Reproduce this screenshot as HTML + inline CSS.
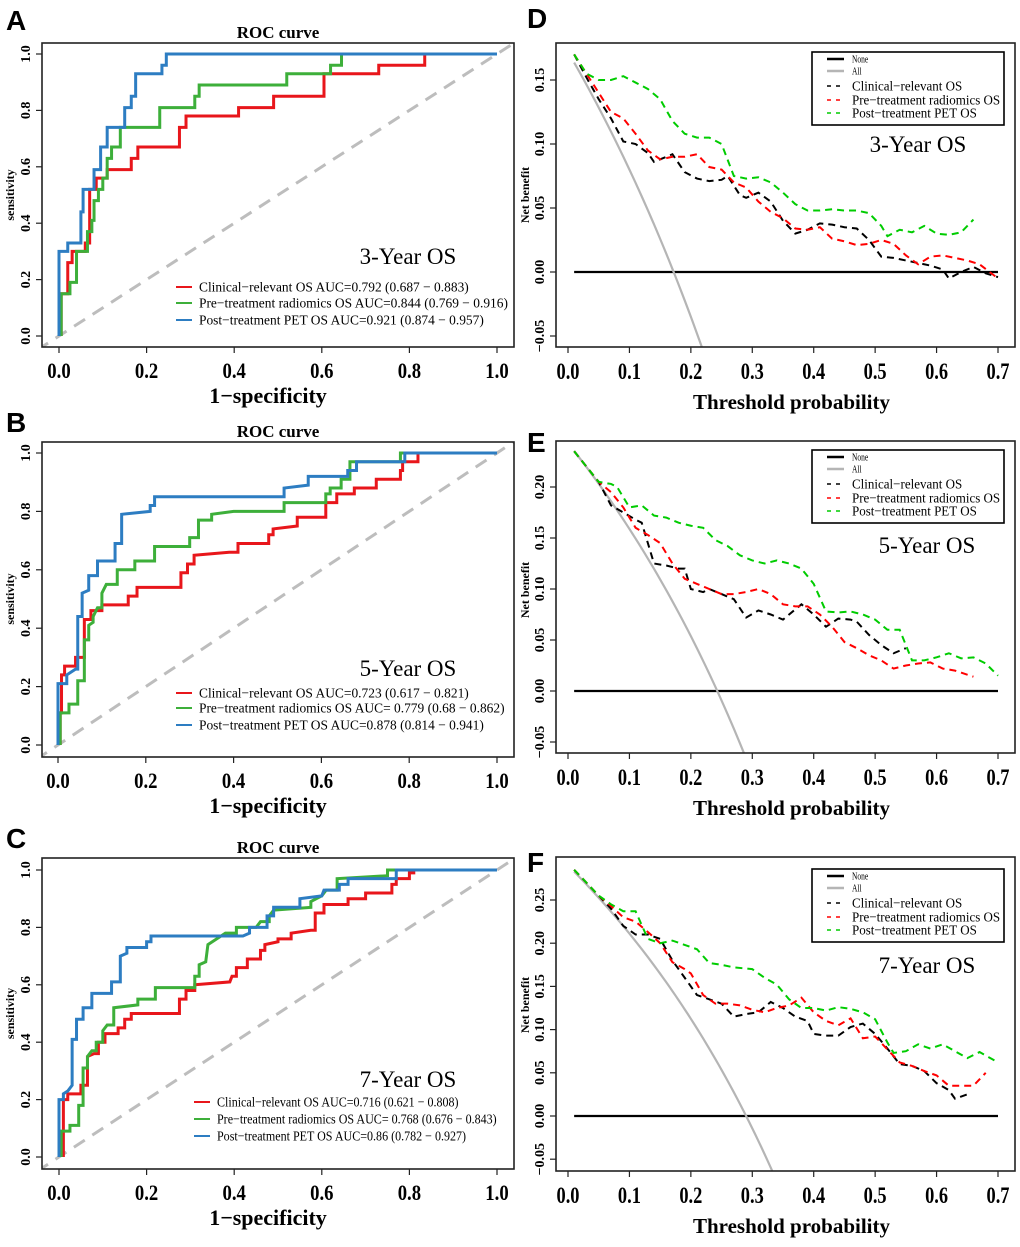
<!DOCTYPE html>
<html><head><meta charset="utf-8"><style>
html,body{margin:0;padding:0;background:#fff;width:1020px;height:1247px;overflow:hidden;}
svg{display:block;}
text{font-family:"Liberation Serif",serif;}
</style></head><body>
<svg id="fig" width="1020" height="1247" viewBox="0 0 1020 1247" xmlns="http://www.w3.org/2000/svg"></svg>
<script>
// ---------- ROC data ([fpr, tpr] pairs) ----------
const rocA_clin=[[0.005,0],[0.005,0.15],[0.02,0.15],[0.02,0.26],[0.03,0.26],[0.03,0.3],[0.06,0.3],[0.06,0.33],[0.07,0.33],[0.07,0.52],[0.085,0.52],[0.085,0.56],[0.11,0.56],[0.11,0.59],[0.165,0.59],[0.165,0.63],[0.18,0.63],[0.18,0.67],[0.275,0.67],[0.275,0.74],[0.29,0.74],[0.29,0.78],[0.41,0.78],[0.41,0.81],[0.49,0.81],[0.49,0.85],[0.605,0.85],[0.605,0.93],[0.73,0.93],[0.73,0.96],[0.835,0.96],[0.835,1],[1,1]];
const rocA_pre=[[0.005,0],[0.005,0.15],[0.025,0.15],[0.025,0.19],[0.04,0.19],[0.04,0.3],[0.065,0.3],[0.065,0.37],[0.075,0.37],[0.075,0.41],[0.08,0.41],[0.08,0.48],[0.09,0.48],[0.09,0.52],[0.1,0.52],[0.1,0.56],[0.11,0.56],[0.11,0.63],[0.12,0.63],[0.12,0.67],[0.14,0.67],[0.14,0.74],[0.23,0.74],[0.23,0.81],[0.31,0.81],[0.31,0.85],[0.32,0.85],[0.32,0.89],[0.52,0.89],[0.52,0.93],[0.62,0.93],[0.62,0.96],[0.645,0.96],[0.645,1],[1,1]];
const rocA_post=[[0,0],[0,0.3],[0.02,0.3],[0.02,0.33],[0.05,0.33],[0.05,0.44],[0.055,0.44],[0.055,0.52],[0.08,0.52],[0.08,0.59],[0.095,0.59],[0.095,0.67],[0.11,0.67],[0.11,0.74],[0.15,0.74],[0.15,0.81],[0.165,0.81],[0.165,0.85],[0.175,0.85],[0.175,0.93],[0.235,0.93],[0.235,0.96],[0.245,0.96],[0.245,1],[1,1]];
const rocB_clin=[[0.005,0],[0.005,0.11],[0.008,0.11],[0.008,0.24],[0.015,0.24],[0.015,0.27],[0.04,0.27],[0.04,0.3],[0.06,0.3],[0.06,0.43],[0.075,0.43],[0.075,0.46],[0.1,0.46],[0.1,0.48],[0.16,0.48],[0.16,0.51],[0.18,0.51],[0.18,0.54],[0.28,0.54],[0.28,0.59],[0.295,0.59],[0.295,0.62],[0.31,0.62],[0.31,0.65],[0.39,0.66],[0.41,0.66],[0.41,0.69],[0.48,0.69],[0.48,0.72],[0.49,0.72],[0.49,0.74],[0.545,0.75],[0.545,0.78],[0.61,0.78],[0.61,0.83],[0.635,0.83],[0.635,0.86],[0.675,0.86],[0.675,0.88],[0.725,0.88],[0.725,0.91],[0.78,0.91],[0.78,0.94],[0.785,0.94],[0.785,0.97],[0.82,0.97],[0.82,1],[1,1]];
const rocB_pre=[[0.005,0],[0.005,0.11],[0.025,0.11],[0.025,0.14],[0.045,0.14],[0.045,0.22],[0.06,0.22],[0.06,0.36],[0.07,0.36],[0.07,0.41],[0.08,0.42],[0.08,0.44],[0.09,0.47],[0.1,0.47],[0.1,0.52],[0.11,0.55],[0.135,0.55],[0.135,0.6],[0.175,0.6],[0.175,0.63],[0.22,0.63],[0.22,0.68],[0.3,0.68],[0.3,0.71],[0.32,0.71],[0.32,0.77],[0.35,0.77],[0.35,0.79],[0.4,0.8],[0.515,0.8],[0.515,0.83],[0.61,0.83],[0.61,0.86],[0.62,0.86],[0.62,0.88],[0.645,0.88],[0.645,0.91],[0.665,0.91],[0.665,0.97],[0.78,0.97],[0.78,1],[1,1]];
const rocB_post=[[0,0],[0,0.21],[0.02,0.21],[0.02,0.24],[0.04,0.26],[0.045,0.26],[0.045,0.44],[0.055,0.44],[0.055,0.52],[0.07,0.53],[0.07,0.58],[0.09,0.58],[0.09,0.63],[0.13,0.63],[0.13,0.69],[0.145,0.69],[0.145,0.79],[0.21,0.8],[0.21,0.82],[0.22,0.82],[0.22,0.85],[0.515,0.85],[0.515,0.88],[0.57,0.89],[0.57,0.92],[0.66,0.92],[0.66,0.94],[0.68,0.94],[0.68,0.97],[0.79,0.97],[0.79,1],[1,1]];
const rocC_clin=[[0.01,0],[0.01,0.2],[0.02,0.2],[0.02,0.22],[0.05,0.22],[0.05,0.25],[0.065,0.25],[0.065,0.35],[0.08,0.36],[0.09,0.36],[0.09,0.4],[0.105,0.4],[0.105,0.43],[0.135,0.43],[0.135,0.45],[0.15,0.45],[0.15,0.48],[0.165,0.48],[0.165,0.5],[0.275,0.5],[0.275,0.55],[0.29,0.55],[0.29,0.58],[0.31,0.58],[0.31,0.6],[0.39,0.61],[0.395,0.63],[0.405,0.63],[0.405,0.66],[0.43,0.66],[0.43,0.69],[0.46,0.69],[0.46,0.72],[0.47,0.72],[0.47,0.74],[0.5,0.75],[0.5,0.76],[0.53,0.76],[0.53,0.78],[0.575,0.79],[0.585,0.79],[0.585,0.85],[0.605,0.85],[0.605,0.88],[0.66,0.88],[0.66,0.9],[0.7,0.9],[0.7,0.92],[0.76,0.92],[0.76,0.95],[0.77,0.95],[0.77,0.97],[0.8,0.97],[0.8,0.99],[0.81,0.99],[0.81,1]];
const rocC_pre=[[0.005,0],[0.005,0.09],[0.025,0.09],[0.025,0.11],[0.045,0.11],[0.045,0.18],[0.055,0.18],[0.055,0.31],[0.065,0.31],[0.065,0.35],[0.075,0.37],[0.085,0.37],[0.085,0.4],[0.1,0.4],[0.1,0.44],[0.11,0.46],[0.125,0.46],[0.125,0.52],[0.18,0.53],[0.18,0.55],[0.22,0.55],[0.22,0.59],[0.31,0.59],[0.31,0.63],[0.32,0.63],[0.32,0.67],[0.335,0.68],[0.34,0.74],[0.36,0.76],[0.38,0.78],[0.405,0.78],[0.405,0.8],[0.45,0.8],[0.46,0.82],[0.48,0.82],[0.48,0.84],[0.49,0.86],[0.575,0.87],[0.575,0.89],[0.6,0.91],[0.61,0.93],[0.635,0.93],[0.635,0.97],[0.75,0.98],[0.75,1],[1,1]];
const rocC_post=[[0,0],[0,0.2],[0.01,0.2],[0.01,0.22],[0.02,0.23],[0.03,0.25],[0.03,0.41],[0.04,0.41],[0.04,0.48],[0.055,0.48],[0.055,0.52],[0.075,0.52],[0.075,0.57],[0.12,0.57],[0.12,0.61],[0.14,0.61],[0.14,0.7],[0.155,0.71],[0.155,0.73],[0.2,0.73],[0.2,0.75],[0.21,0.75],[0.21,0.77],[0.42,0.77],[0.435,0.78],[0.435,0.8],[0.475,0.8],[0.475,0.84],[0.49,0.84],[0.49,0.87],[0.55,0.87],[0.55,0.9],[0.6,0.91],[0.605,0.93],[0.64,0.93],[0.64,0.95],[0.66,0.95],[0.66,0.97],[0.77,0.97],[0.77,1],[1,1]];
const rocTicks=[0,0.2,0.4,0.6,0.8,1.0];
const rocTickLabels=["0.0","0.2","0.4","0.6","0.8","1.0"];
const rocLegendA=["Clinical\u2212relevant OS AUC=0.792 (0.687 \u2212 0.883)","Pre\u2212treatment radiomics OS AUC=0.844 (0.769 \u2212 0.916)","Post\u2212treatment PET OS AUC=0.921 (0.874 \u2212 0.957)"];
const rocLegendB=["Clinical\u2212relevant OS AUC=0.723 (0.617 \u2212 0.821)","Pre\u2212treatment radiomics OS AUC= 0.779 (0.68 \u2212 0.862)","Post\u2212treatment PET OS AUC=0.878 (0.814 \u2212 0.941)"];
const rocLegendC=["Clinical\u2212relevant OS AUC=0.716 (0.621 \u2212 0.808)","Pre\u2212treatment radiomics OS AUC= 0.768 (0.676 \u2212 0.843)","Post\u2212treatment PET OS AUC=0.86 (0.782 \u2212 0.927)"];

// ---------- DCA data ([threshold, net benefit] pairs) ----------
const dcaD_clin=[[0.01,0.17],[0.03,0.152],[0.05,0.135],[0.07,0.12],[0.09,0.102],[0.11,0.1],[0.13,0.093],[0.14,0.086],[0.16,0.09],[0.17,0.092],[0.19,0.078],[0.21,0.073],[0.23,0.071],[0.25,0.072],[0.26,0.075],[0.28,0.06],[0.29,0.058],[0.31,0.062],[0.33,0.055],[0.35,0.04],[0.37,0.03],[0.39,0.033],[0.41,0.038],[0.43,0.037],[0.45,0.035],[0.47,0.034],[0.49,0.025],[0.51,0.012],[0.53,0.011],[0.55,0.009],[0.57,0.007],[0.59,0.005],[0.61,0.002],[0.62,-0.005],[0.64,0.0],[0.66,0.004],[0.68,-0.001],[0.70,-0.004]];
const dcaD_pre=[[0.01,0.17],[0.03,0.155],[0.05,0.14],[0.07,0.125],[0.09,0.12],[0.11,0.108],[0.13,0.095],[0.15,0.088],[0.17,0.09],[0.19,0.09],[0.21,0.092],[0.23,0.082],[0.25,0.08],[0.27,0.07],[0.29,0.066],[0.31,0.055],[0.33,0.047],[0.35,0.042],[0.37,0.034],[0.39,0.033],[0.41,0.035],[0.43,0.026],[0.45,0.024],[0.47,0.021],[0.49,0.022],[0.51,0.025],[0.53,0.022],[0.55,0.013],[0.57,0.006],[0.59,0.012],[0.61,0.013],[0.63,0.011],[0.65,0.009],[0.67,0.006],[0.70,-0.005]];
const dcaD_post=[[0.01,0.17],[0.03,0.155],[0.05,0.15],[0.07,0.15],[0.09,0.153],[0.11,0.148],[0.13,0.143],[0.15,0.135],[0.17,0.118],[0.19,0.108],[0.21,0.105],[0.23,0.105],[0.25,0.1],[0.27,0.075],[0.29,0.073],[0.31,0.074],[0.33,0.07],[0.35,0.062],[0.37,0.053],[0.39,0.048],[0.41,0.048],[0.43,0.049],[0.45,0.048],[0.47,0.048],[0.49,0.046],[0.51,0.036],[0.52,0.028],[0.54,0.033],[0.56,0.031],[0.58,0.036],[0.60,0.03],[0.62,0.029],[0.64,0.031],[0.66,0.041]];
const dcaE_clin=[[0.01,0.235],[0.03,0.22],[0.05,0.205],[0.07,0.182],[0.09,0.175],[0.11,0.168],[0.12,0.165],[0.14,0.125],[0.16,0.123],[0.18,0.12],[0.19,0.12],[0.20,0.1],[0.22,0.097],[0.23,0.1],[0.25,0.095],[0.27,0.09],[0.29,0.072],[0.31,0.079],[0.33,0.075],[0.35,0.07],[0.37,0.08],[0.38,0.085],[0.40,0.075],[0.42,0.063],[0.44,0.071],[0.46,0.07],[0.47,0.068],[0.49,0.055],[0.51,0.045],[0.53,0.037],[0.55,0.042]];
const dcaE_pre=[[0.01,0.235],[0.03,0.22],[0.05,0.205],[0.07,0.195],[0.09,0.18],[0.11,0.16],[0.13,0.153],[0.15,0.145],[0.17,0.125],[0.19,0.11],[0.21,0.105],[0.23,0.1],[0.25,0.095],[0.27,0.095],[0.29,0.097],[0.31,0.1],[0.33,0.095],[0.35,0.085],[0.37,0.083],[0.39,0.083],[0.41,0.075],[0.43,0.063],[0.45,0.048],[0.47,0.042],[0.49,0.035],[0.51,0.03],[0.53,0.022],[0.55,0.025],[0.57,0.027],[0.59,0.028],[0.61,0.022],[0.63,0.02],[0.66,0.014]];
const dcaE_post=[[0.01,0.235],[0.03,0.22],[0.05,0.205],[0.07,0.203],[0.08,0.2],[0.10,0.18],[0.12,0.182],[0.14,0.172],[0.16,0.17],[0.18,0.165],[0.20,0.162],[0.22,0.16],[0.24,0.148],[0.26,0.142],[0.28,0.133],[0.30,0.128],[0.32,0.125],[0.34,0.128],[0.36,0.125],[0.38,0.12],[0.40,0.105],[0.42,0.078],[0.44,0.077],[0.46,0.078],[0.48,0.075],[0.50,0.07],[0.52,0.06],[0.54,0.06],[0.56,0.03],[0.58,0.03],[0.60,0.033],[0.62,0.037],[0.64,0.032],[0.66,0.033],[0.68,0.027],[0.70,0.015]];
const dcaF_clin=[[0.01,0.285],[0.03,0.27],[0.05,0.255],[0.07,0.24],[0.09,0.22],[0.11,0.21],[0.13,0.21],[0.15,0.205],[0.17,0.18],[0.19,0.16],[0.21,0.14],[0.23,0.135],[0.25,0.13],[0.27,0.115],[0.29,0.118],[0.31,0.12],[0.33,0.132],[0.35,0.125],[0.37,0.115],[0.39,0.11],[0.40,0.095],[0.42,0.093],[0.44,0.093],[0.46,0.103],[0.48,0.107],[0.50,0.095],[0.52,0.078],[0.54,0.06],[0.56,0.058],[0.58,0.052],[0.60,0.038],[0.62,0.03],[0.63,0.02],[0.65,0.025]];
const dcaF_pre=[[0.01,0.285],[0.03,0.27],[0.05,0.255],[0.07,0.243],[0.09,0.23],[0.11,0.225],[0.13,0.213],[0.15,0.2],[0.17,0.178],[0.19,0.17],[0.20,0.165],[0.22,0.14],[0.24,0.13],[0.26,0.13],[0.28,0.128],[0.30,0.123],[0.32,0.12],[0.34,0.125],[0.36,0.128],[0.38,0.137],[0.40,0.12],[0.42,0.11],[0.44,0.105],[0.46,0.113],[0.48,0.09],[0.50,0.092],[0.52,0.077],[0.54,0.062],[0.56,0.058],[0.58,0.052],[0.60,0.047],[0.62,0.035],[0.64,0.035],[0.66,0.035],[0.68,0.05]];
const dcaF_post=[[0.01,0.285],[0.03,0.27],[0.05,0.255],[0.07,0.245],[0.09,0.237],[0.11,0.237],[0.13,0.205],[0.15,0.2],[0.17,0.203],[0.19,0.198],[0.21,0.193],[0.23,0.177],[0.25,0.175],[0.27,0.172],[0.30,0.17],[0.32,0.16],[0.34,0.152],[0.36,0.135],[0.38,0.125],[0.40,0.125],[0.42,0.122],[0.44,0.126],[0.46,0.124],[0.48,0.12],[0.50,0.112],[0.52,0.085],[0.53,0.073],[0.55,0.075],[0.57,0.083],[0.59,0.078],[0.61,0.083],[0.63,0.075],[0.65,0.067],[0.67,0.074],[0.70,0.062]];
const dcaPrevalence=[0.172,0.243,0.29];
const dcaXTicks=[0,0.1,0.2,0.3,0.4,0.5,0.6,0.7];
const dcaXTickLabels=["0.0","0.1","0.2","0.3","0.4","0.5","0.6","0.7"];
const dcaYTicksD=[-0.05,0,0.05,0.10,0.15];
const dcaYTicksE=[-0.05,0,0.05,0.10,0.15,0.20];
const dcaYTicksF=[-0.05,0,0.05,0.10,0.15,0.20,0.25];
const dcaLegendLabels=["None","All","Clinical\u2212relevant OS","Pre\u2212treatment radiomics OS","Post\u2212treatment PET OS"];

const NS="http://www.w3.org/2000/svg";
const svg=document.getElementById('fig');
function el(tag,attrs,parent,txt){const e=document.createElementNS(NS,tag);for(const k in attrs)e.setAttribute(k,attrs[k]);if(txt!==undefined)e.textContent=txt;(parent||svg).appendChild(e);return e;}

function panelLetter(t,x,y){
  const e=el('text',{x:x,y:y,style:'font-family:"Liberation Sans",sans-serif;font-size:28px;font-weight:bold'},svg,t);
  
  
}

function rocPanel(id,cfg,series,legend,yearText){
  const g=el('g',{});
  
  
  const sx=v=>cfg.x0+v*(cfg.x1-cfg.x0);
  const sy=v=>cfg.y0+v*(cfg.y1-cfg.y0);
  const cp=el('clipPath',{id:'clip'+id},g);
  el('rect',{x:cfg.L,y:cfg.T,width:cfg.R-cfg.L,height:cfg.B-cfg.T},cp);
  const t=el('text',{x:(cfg.L+cfg.R)/2,y:cfg.T-5,'text-anchor':'middle','font-size':17,'font-weight':'bold'},g,'ROC curve');
  
  
  const diag=el('line',{x1:sx(-0.05),y1:sy(-0.05),x2:sx(1.05),y2:sy(1.05),stroke:'#bdbdbd','stroke-width':3,'stroke-dasharray':'13,9','clip-path':'url(#clip'+id+')'},g);
  
  
  const cols=['#e8161b','#3daf3a','#2d7dc2'];
  const names=['clinical-relevant-curve','pre-treatment-radiomics-curve','post-treatment-pet-curve'];
  series.forEach((s,i)=>{
    const p=el('polyline',{points:s.map(d=>sx(d[0])+','+sy(d[1])).join(' '),fill:'none',stroke:cols[i],'stroke-width':3,'stroke-linejoin':'miter'},g);
    
    
  });
  const box=el('rect',{x:cfg.L,y:cfg.T,width:cfg.R-cfg.L,height:cfg.B-cfg.T,fill:'none',stroke:'#222','stroke-width':1.6},g);
  
  
  rocTicks.forEach((v,i)=>{
    el('line',{x1:sx(v),y1:cfg.B,x2:sx(v),y2:cfg.B+6,stroke:'#222','stroke-width':1.2},g);
    const xt=el('text',{x:sx(v),y:cfg.B+31,'text-anchor':'middle','font-size':22,'font-weight':'bold',transform:'translate('+sx(v)+',0) scale(0.85,1) translate('+(-sx(v))+',0)'},g,rocTickLabels[i]);
    
    
    el('line',{x1:cfg.L,y1:sy(v),x2:cfg.L-6,y2:sy(v),stroke:'#222','stroke-width':1.2},g);
    const yt=el('text',{x:0,y:0,'text-anchor':'middle','font-size':14,'font-weight':'bold',transform:'translate('+(cfg.L-12)+','+sy(v)+') rotate(-90)'},g,rocTickLabels[i]);
    
    
  });
  const xl=el('text',{x:(cfg.L+cfg.R)/2-10,y:cfg.B+56,'text-anchor':'middle','font-size':22,'font-weight':'bold'},g,'1\u2212specificity');
  
  
  const yl=el('text',{x:0,y:0,'text-anchor':'middle','font-size':12,'font-weight':'bold',transform:'translate(14,'+sy(0.5)+') rotate(-90)'},g,'sensitivity');
  
  
  const yr=el('text',{x:408,y:cfg.yearY,'text-anchor':'middle','font-size':23},g,yearText);
  
  
  legend.forEach((s,i)=>{
    const ly=cfg.legY[i];
    el('line',{x1:cfg.legX,y1:ly,x2:cfg.legX+16,y2:ly,stroke:cols[i],'stroke-width':2},g);
    const lt=el('text',{x:cfg.legX+23,y:ly+4.5,'font-size':cfg.legFs,transform:'translate('+(cfg.legX+23)+',0) scale('+cfg.legSc+',1) translate('+(-(cfg.legX+23))+',0)'},g,s);
    
    
  });
}

function dcaPanel(id,cfg,series,prev,yTicks,yearText){
  const g=el('g',{});
  
  
  const sx=v=>cfg.xz+v*(998-568)/0.7;
  const sy=v=>cfg.yz-v*cfg.ys;
  const cp=el('clipPath',{id:'clip'+id},g);
  el('rect',{x:cfg.L,y:cfg.T,width:cfg.R-cfg.L,height:cfg.B-cfg.T},cp);
  const none=el('line',{x1:sx(0.01),y1:sy(0),x2:sx(0.7),y2:sy(0),stroke:'#000','stroke-width':2.2},g);
  
  
  const allPts=[];
  for(let k=0;k<=140;k++){const t=0.01+k*0.005;allPts.push(sx(t)+','+sy(prev-(1-prev)*t/(1-t)));}
  const all=el('polyline',{points:allPts.join(' '),fill:'none',stroke:'#b5b5b5','stroke-width':2.2,'clip-path':'url(#clip'+id+')'},g);
  
  
  const cols=['#000','#ff0000','#00cc00'];
  const names=['clinical-relevant-curve','pre-treatment-radiomics-curve','post-treatment-pet-curve'];
  series.forEach((s,i)=>{
    const p=el('polyline',{points:s.map(d=>sx(d[0])+','+sy(d[1])).join(' '),fill:'none',stroke:cols[i],'stroke-width':2,'stroke-dasharray':'7,5','clip-path':'url(#clip'+id+')'},g);
    
    
  });
  const box=el('rect',{x:cfg.L,y:cfg.T,width:cfg.R-cfg.L,height:cfg.B-cfg.T,fill:'none',stroke:'#222','stroke-width':1.6},g);
  
  
  dcaXTicks.forEach((v,i)=>{
    el('line',{x1:sx(v),y1:cfg.B,x2:sx(v),y2:cfg.B+6,stroke:'#222','stroke-width':1.2},g);
    const xt=el('text',{x:sx(v),y:cfg.B+32,'text-anchor':'middle','font-size':23,'font-weight':'bold',transform:'translate('+sx(v)+',0) scale(0.8,1) translate('+(-sx(v))+',0)'},g,dcaXTickLabels[i]);
    
    
  });
  yTicks.forEach(v=>{
    el('line',{x1:cfg.L,y1:sy(v),x2:cfg.L-6,y2:sy(v),stroke:'#222','stroke-width':1.2},g);
    const yt=el('text',{x:0,y:0,'text-anchor':'middle','font-size':14,'font-weight':'bold',transform:'translate('+(cfg.L-12)+','+sy(v)+') rotate(-90)'},g,v.toFixed(2).replace('-','\u2212'));
    
    
  });
  const xl=el('text',{x:(cfg.L+cfg.R)/2+6,y:cfg.B+62,'text-anchor':'middle','font-size':21,'font-weight':'bold'},g,'Threshold probability');
  
  
  const yl=el('text',{x:0,y:0,'text-anchor':'middle','font-size':12,'font-weight':'bold',transform:'translate(529,'+cfg.ylY+') rotate(-90)'},g,'Net benefit');
  
  
  const lg=el('g',{},g);
  
  
  el('rect',{x:812,y:cfg.legT,width:192,height:73,fill:'#fff',stroke:'#000','stroke-width':1.6},lg);
  const rows=[7,19,34,48,61];
  const lcols=['#000','#b5b5b5','#000','#ff0000','#00cc00'];
  dcaLegendLabels.forEach((s,i)=>{
    const ly=cfg.legT+rows[i];
    if(i<2) el('line',{x1:827,y1:ly,x2:844,y2:ly,stroke:lcols[i],'stroke-width':2.5},lg);
    else el('line',{x1:827,y1:ly,x2:845,y2:ly,stroke:lcols[i],'stroke-width':1.6,'stroke-dasharray':'4,5'},lg);
    const fs=i<2?10:14;
    const lt=el('text',{x:852,y:ly+(i<2?3.5:4.5),'font-size':fs,transform:'translate(852,0) scale('+(i<2?0.75:0.93)+',1) translate(-852,0)'},lg,s);
    
    
  });
  const yr=el('text',{x:cfg.yearX,y:cfg.yearY,'text-anchor':'middle','font-size':23},g,yearText);
  
  
}

panelLetter('A',6,30);panelLetter('B',6,432);panelLetter('C',6,848);
panelLetter('D',527,28);panelLetter('E',527,452);panelLetter('F',527,872);

rocPanel('A',{L:42,R:514,T:43,B:347,x0:59,x1:497,y0:336,y1:54,yearY:264,legX:176,legY:[287,303,320],legFs:14,legSc:0.96},[rocA_clin,rocA_pre,rocA_post],rocLegendA,'3-Year OS');
rocPanel('B',{L:42,R:514,T:442,B:757,x0:58,x1:497,y0:745,y1:453,yearY:676,legX:176,legY:[693,708,725],legFs:14,legSc:0.96},[rocB_clin,rocB_pre,rocB_post],rocLegendB,'5-Year OS');
rocPanel('C',{L:42,R:514,T:858,B:1169,x0:59,x1:497,y0:1157,y1:870,yearY:1087,legX:194,legY:[1102,1119,1136],legFs:14,legSc:0.86},[rocC_clin,rocC_pre,rocC_post],rocLegendC,'7-Year OS');

dcaPanel('D',{L:556,R:1015,T:43,B:347,xz:568,yz:272,ys:1280,legT:52,yearX:918,yearY:152,ylY:195},[dcaD_clin,dcaD_pre,dcaD_post],dcaPrevalence[0],dcaYTicksD,'3-Year OS');
dcaPanel('E',{L:556,R:1015,T:441,B:753,xz:568,yz:691,ys:1020,legT:450,yearX:927,yearY:553,ylY:590},[dcaE_clin,dcaE_pre,dcaE_post],dcaPrevalence[1],dcaYTicksE,'5-Year OS');
dcaPanel('F',{L:556,R:1015,T:857,B:1171,xz:568,yz:1116,ys:864,legT:869,yearX:927,yearY:973,ylY:1005},[dcaF_clin,dcaF_pre,dcaF_post],dcaPrevalence[2],dcaYTicksF,'7-Year OS');
</script>
</body></html>
